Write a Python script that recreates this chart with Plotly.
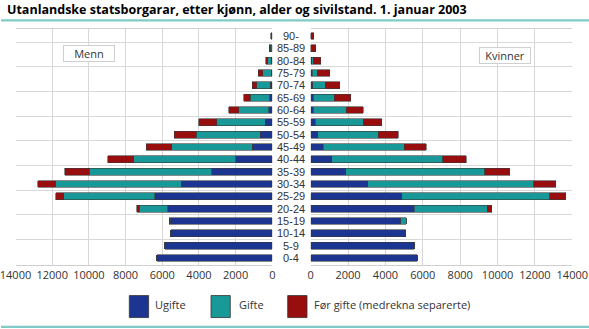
import plotly.graph_objects as go

# Age groups, youngest first (bottom of the pyramid)
ages = ["0-4", "5-9", "10-14", "15-19", "20-24", "25-29", "30-34", "35-39",
        "40-44", "45-49", "50-54", "55-59", "60-64", "65-69", "70-74",
        "75-79", "80-84", "85-89", "90-"]

# Men
menn_ugifte = [6290, 5854, 5545, 5563, 5709, 6400, 4963, 3290, 1982, 1091,
               654, 382, 200, 127, 109, 55, 70, 40, 20]
menn_gifte = [0, 0, 0, 55, 1545, 4963, 6854, 6690, 5582, 4400,
              3490, 2654, 1636, 1073, 727, 473, 180, 70, 30]
menn_for = [0, 0, 0, 0, 145, 455, 982, 1345, 1400, 1382,
            1200, 964, 545, 345, 255, 236, 110, 50, 30]

# Women
kvinner_ugifte = [5714, 5554, 5090, 4822, 5536, 4875, 3054, 1875, 1125, 679,
                  375, 232, 125, 125, 100, 80, 60, 15, 10]
kvinner_gifte = [0, 0, 0, 304, 3911, 7929, 8875, 7429, 5929, 4322,
                 3250, 2590, 1768, 1143, 680, 270, 70, 20, 20]
kvinner_for = [0, 0, 0, 0, 250, 857, 1179, 1340, 1268, 1179,
               1054, 982, 929, 875, 785, 680, 410, 235, 120]

x_ticks = [0, 2000, 4000, 6000, 8000, 10000, 12000, 14000]

series_names = ["Ugifte", "Gifte", "Før gifte (medrekna separerte)"]
colors = ["#1c3591", "#189896", "#980e0e"]

W, H = 589, 329
M_TOP, M_BOT = 29.3, 64
PLOT_H = H - M_TOP - M_BOT


def px_x(p):
    return p / W


def px_y(p):
    return (H - M_BOT - p) / PLOT_H


fig = go.Figure()

men = [menn_ugifte, menn_gifte, menn_for]
women = [kvinner_ugifte, kvinner_gifte, kvinner_for]
for name, col, vals in zip(series_names, colors, men):
    fig.add_trace(go.Bar(
        y=ages, x=vals, orientation="h", name=name,
        marker=dict(color=col, line=dict(color="#3a3a3a", width=0.6)),
        xaxis="x", yaxis="y", showlegend=False,
        hovertemplate="%{y}: %{x}<extra>Menn – " + name + "</extra>"))
for name, col, vals in zip(series_names, colors, women):
    fig.add_trace(go.Bar(
        y=ages, x=vals, orientation="h", name=name,
        marker=dict(color=col, line=dict(color="#3a3a3a", width=0.6)),
        xaxis="x2", yaxis="y2", showlegend=False,
        hovertemplate="%{y}: %{x}<extra>Kvinner – " + name + "</extra>"))

grid = "#d8d8d8"
tickfont = dict(family="Open Sans", size=11, color="#333333")
common_x = dict(tickvals=x_ticks, ticktext=[str(v) for v in x_ticks],
                showgrid=True, gridcolor=grid, gridwidth=1.3,
                zeroline=False, showline=True, linecolor="#cfcfcf",
                linewidth=1, mirror=True, ticks="", tickfont=tickfont,
                ticklabeloverflow="allow", automargin=False,
                fixedrange=True)
common_y = dict(categoryorder="array", categoryarray=ages,
                tickson="boundaries", showgrid=True, gridcolor=grid,
                gridwidth=1, showticklabels=False, ticks="",
                zeroline=False, showline=False, automargin=False,
                fixedrange=True)

fig.update_layout(
    width=W, height=H,
    margin=dict(l=0, r=0, t=M_TOP, b=M_BOT, pad=0, autoexpand=False),
    paper_bgcolor="white", plot_bgcolor="white",
    barmode="stack", bargap=0.45,
    font=dict(family="Open Sans", color="#333333"),
    xaxis=dict(domain=[px_x(15.5), px_x(272.3)], range=[14000, 0],
               anchor="y", **common_x),
    xaxis2=dict(domain=[px_x(310.7), px_x(572.3)], range=[0, 14000],
                anchor="y2", **common_x),
    yaxis=dict(anchor="x", **common_y),
    yaxis2=dict(anchor="x2", matches="y", **common_y),
)

annotations = []
# Title
annotations.append(dict(
    text="<b>Utanlandske statsborgarar, etter kjønn, alder og sivilstand. 1. januar 2003</b>",
    xref="paper", yref="paper", x=px_x(5), y=px_y(9.5),
    xanchor="left", yanchor="middle", showarrow=False,
    font=dict(family="Open Sans", size=12.5, color="#000000")))

# Age labels between the two panels
for a in ages:
    annotations.append(dict(
        text=a, xref="paper", yref="y", x=px_x(291), y=a,
        xanchor="center", yanchor="middle", showarrow=False,
        borderpad=0,
        font=dict(family="Liberation Sans", size=11, color="#333333")))

# Panel labels
for txt, cx, cy in [("Menn", 88.5, 54), ("Kvinner", 504.5, 56)]:
    annotations.append(dict(
        text=txt, xref="paper", yref="paper", x=px_x(cx), y=px_y(cy),
        xanchor="center", yanchor="middle", showarrow=False,
        width=48, height=13, bgcolor="white", bordercolor="#cfcfcf",
        borderwidth=1, borderpad=1,
        font=dict(family="Open Sans", size=11, color="#333333")))

# Legend drawn as swatches with labels
shapes = []
legend_items = [(129.3, 153.3), (211.0, 237.3), (287.7, 312.0)]
for (sx, tx), name, col in zip(legend_items, series_names, colors):
    shapes.append(dict(
        type="rect", xref="paper", yref="paper",
        x0=px_x(sx), x1=px_x(sx + 19.3), y0=px_y(317.5), y1=px_y(295.5),
        fillcolor=col, line=dict(color="#333333", width=0.8)))
    annotations.append(dict(
        text=name, xref="paper", yref="paper", x=px_x(tx), y=px_y(304.5),
        xanchor="left", yanchor="middle", showarrow=False,
        font=dict(family="Open Sans", size=11, color="#333333")))

# Teal rules above the chart and below the legend
for yy in (20.7, 326.7):
    shapes.append(dict(
        type="line", xref="paper", yref="paper",
        x0=px_x(1), x1=1, y0=px_y(yy), y1=px_y(yy),
        line=dict(color="#80cbc8", width=2.2)))

fig.update_layout(annotations=annotations, shapes=shapes)

fig.write_html("out.html")
